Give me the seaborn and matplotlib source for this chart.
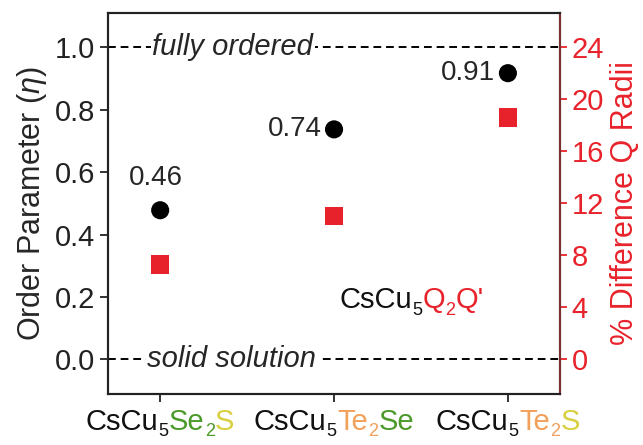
import matplotlib
matplotlib.use("Agg")
import matplotlib.pyplot as plt
import seaborn as sns
import pandas as pd

# ---- data ----
compounds = ["CsCu5Se2S", "CsCu5Te2Se", "CsCu5Te2S"]
order_param = [0.478, 0.737, 0.917]
order_labels = ["0.46", "0.74", "0.91"]
radii_diff = [7.3, 11.0, 18.6]
left_ticks = [0.0, 0.2, 0.4, 0.6, 0.8, 1.0]
right_ticks = [0, 4, 8, 12, 16, 20, 24]
GREEN = "#4c9a2a"
ORANGE = "#f2a05a"
YELLOW = "#d8d040"
BLACK = "#111111"
RED = "#e8222a"
# tick label pieces: (text, color, is_subscript)
label_parts = [
    [("CsCu", BLACK, False), ("5", BLACK, True), ("Se", GREEN, False), ("2", GREEN, True), ("S", YELLOW, False)],
    [("CsCu", BLACK, False), ("5", BLACK, True), ("Te", ORANGE, False), ("2", ORANGE, True), ("Se", GREEN, False)],
    [("CsCu", BLACK, False), ("5", BLACK, True), ("Te", ORANGE, False), ("2", ORANGE, True), ("S", YELLOW, False)],
]
formula_parts = [("CsCu", BLACK, False), ("5", BLACK, True), ("Q", RED, False),
                 ("2", RED, True), ("Q'", RED, False)]

sns.set_style("ticks")
plt.rcParams["font.family"] = ["Liberation Sans", "DejaVu Sans"]
plt.rcParams["mathtext.fontset"] = "custom"
plt.rcParams["mathtext.rm"] = "Liberation Sans"
plt.rcParams["mathtext.it"] = "Liberation Sans:italic"

FS = 21

df = pd.DataFrame({"x": [0, 1, 2], "eta": order_param, "diff": radii_diff})

fig = plt.figure(figsize=(6.43, 4.45), dpi=100)
ax = fig.add_axes([0.168, 0.115, 0.703, 0.856])
ax2 = ax.twinx()

sns.scatterplot(data=df, x="x", y="eta", ax=ax, color="black", s=170,
                edgecolor="none", marker="o", zorder=5, legend=False)
sns.scatterplot(data=df, x="x", y="diff", ax=ax2, color=RED, s=170,
                edgecolor="none", marker="s", zorder=5, legend=False)

ax.set_xlim(-0.3, 2.3)
ax.set_ylim(-0.11, 1.11)
ax2.set_ylim(-0.11 * 24, 1.11 * 24)

# dashed reference lines
for yv in [0.0, 1.0]:
    ax.axhline(yv, color="black", ls=(0, (4, 2.5)), lw=1.4, zorder=1)
ax.text(-0.045, 1.0, "fully ordered", style="italic", fontsize=FS, ha="left",
        va="center", bbox=dict(facecolor="white", edgecolor="none", pad=1), zorder=2)
ax.text(-0.075, 0.0, "solid solution", style="italic", fontsize=FS, ha="left",
        va="center", bbox=dict(facecolor="white", edgecolor="none", pad=1), zorder=2)

# value labels
ax.annotate(order_labels[0], (0, order_param[0]), xytext=(-3, 14), textcoords="offset points",
            ha="center", va="bottom", fontsize=FS - 1)
for i in [1, 2]:
    ax.annotate(order_labels[i], (i, order_param[i]), xytext=(-9, 0), textcoords="offset points",
                ha="right", va="center", fontsize=FS - 1)

# axes styling
ax.set_xticks([0, 1, 2])
ax.set_xticklabels(["", "", ""])
ax.set_yticks(left_ticks)
ax.set_yticklabels([f"{t:.1f}" for t in left_ticks], fontsize=FS)
ax.set_ylabel("Order Parameter ($\\mathit{\\eta}$)", fontsize=FS + 1, labelpad=4)
ax.set_xlabel("")
ax2.set_yticks(right_ticks)
ax2.set_yticklabels([str(t) for t in right_ticks], fontsize=FS, color=RED)
ax2.set_ylabel("% Difference Q Radii", fontsize=FS + 1, color=RED, labelpad=4)

for a in (ax, ax2):
    for sp in a.spines.values():
        sp.set_linewidth(1.5)
        sp.set_color("#222222")
ax2.spines["right"].set_color("#7a3030")
ax.tick_params(axis="both", direction="out", length=6, width=1.3, colors="#222222",
               labelcolor="#222222")
ax2.tick_params(axis="y", direction="out", length=5, width=1.3, colors=RED, labelcolor=RED)

renderer = fig.canvas.get_renderer()
PX2PT = 72.0 / fig.dpi


def multitext(xy, coords, parts, fs, base_offset, align="center"):
    texts = []
    widths = []
    for txt, col, sub in parts:
        t = ax.annotate(txt, xy=xy, xycoords=coords, xytext=(0, 0),
                        textcoords="offset points", fontsize=fs * (0.62 if sub else 1.0),
                        color=col, ha="left", va="baseline", annotation_clip=False)
        texts.append(t)
        widths.append(t.get_window_extent(renderer).width * PX2PT + 0.2)
    total = sum(widths)
    x0 = -total / 2 if align == "center" else 0.0
    cum = x0
    for t, w, (txt, col, sub) in zip(texts, widths, parts):
        t.xyann = (cum, base_offset + (-4.5 if sub else 0.0))
        cum += w


for i, parts in enumerate(label_parts):
    multitext((i, 0), ("data", "axes fraction"), parts, FS, -26)

multitext((1.03, 0.19), "data", formula_parts, FS, -6, align="left")

fig.savefig("out.png", dpi=100)
